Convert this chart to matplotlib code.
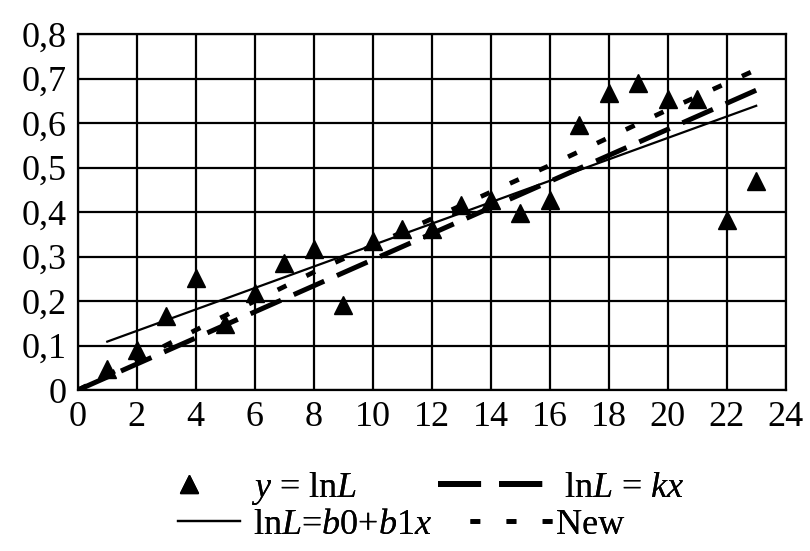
import matplotlib
matplotlib.use("Agg")
import matplotlib.pyplot as plt
from matplotlib.lines import Line2D

plt.rcParams['font.family'] = ['Liberation Serif', 'DejaVu Serif']
plt.rcParams['mathtext.fontset'] = 'custom'
plt.rcParams['mathtext.rm'] = 'Liberation Serif'
plt.rcParams['mathtext.it'] = 'Liberation Serif:italic'
plt.rcParams['lines.scale_dashes'] = False

# observed values y = lnL
x_obs = [1, 2, 3, 4, 5, 6, 7, 8, 9, 10, 11, 12, 13, 14, 15, 16, 17, 18, 19, 20, 21, 22, 23]
y_obs = [0.048, 0.09, 0.166, 0.252, 0.148, 0.218, 0.285, 0.318, 0.192, 0.335, 0.362, 0.362,
         0.415, 0.428, 0.398, 0.428, 0.595, 0.668, 0.69, 0.655, 0.655, 0.382, 0.47]

# lnL = kx
kx_x = [0, 23]
kx_y = [0.0, 0.674]

# lnL = b0 + b1x
reg_x = [1, 23]
reg_y = [0.109, 0.639]

# New
new_x = [0, 4, 8, 12, 16, 20, 23]
new_y = [0.0, 0.135, 0.265, 0.385, 0.505, 0.63, 0.72]

xticks = list(range(0, 25, 2))
yticks = [0, 0.1, 0.2, 0.3, 0.4, 0.5, 0.6, 0.7, 0.8]
ytick_labels = ['0', '0,1', '0,2', '0,3', '0,4', '0,5', '0,6', '0,7', '0,8']

fig = plt.figure(figsize=(8.1, 5.51), dpi=100)
ax = fig.add_axes([0.096, 0.292, 0.874, 0.646])

ax.plot(reg_x, reg_y, color='black', lw=1.6, zorder=3)
ax.plot(kx_x, kx_y, color='black', lw=3.6, dashes=(24, 10), zorder=3)
ax.plot(new_x, new_y, color='black', lw=3.4, dashes=(7, 16), zorder=3)
ax.plot(x_obs, y_obs, linestyle='none', marker='^', color='black', ms=13, zorder=4)

ax.set_xlim(0, 24)
ax.set_ylim(0, 0.8)
ax.set_xticks(xticks)
ax.set_yticks(yticks)
ax.set_yticklabels(ytick_labels)
ax.tick_params(length=0, labelsize=26, pad=8)
ax.grid(True, color='black', lw=1.6)
for s in ax.spines.values():
    s.set_linewidth(1.6)


def add_entry(handle, label, x, y, hlen, pad):
    leg = fig.legend([handle], [label], loc='center left', bbox_to_anchor=(x, y),
                     frameon=False, fontsize=26, handlelength=hlen, handletextpad=pad,
                     borderpad=0, borderaxespad=0, numpoints=1)
    fig.add_artist(leg)


h_obs = Line2D([], [], linestyle='none', marker='^', color='black', ms=13)
h_kx = Line2D([], [], color='black', lw=4.2, dashes=(31, 13))
h_reg = Line2D([], [], color='black', lw=1.6)
h_new = Line2D([], [], color='black', lw=3.4, dashes=(7, 19))

add_entry(h_obs, r'$y$ = ln$L$', 0.169, 0.114, 2.9, 0.25)
add_entry(h_kx, r'ln$L$ = $kx$', 0.541, 0.114, 2.9, 0.58)
add_entry(h_reg, r'ln$L$=$b$0+$b$1$x$', 0.220, 0.047, 1.72, 0.36)
add_entry(h_new, 'New', 0.580, 0.047, 2.3, 0.1)

fig.savefig('out.png', dpi=100)
